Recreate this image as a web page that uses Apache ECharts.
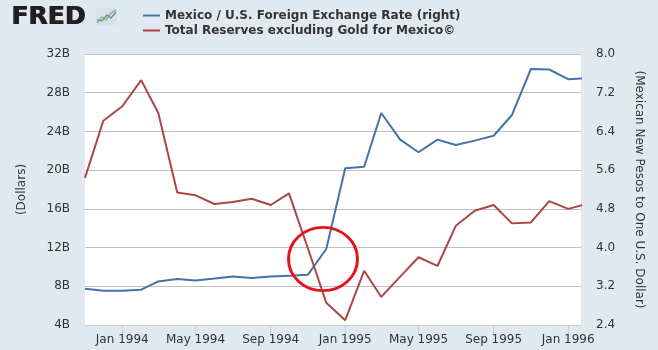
<!DOCTYPE html>
<html>
<head>
<meta charset="utf-8">
<script src="https://cdn.jsdelivr.net/npm/echarts@6/dist/echarts.min.js"></script>
<style>
  html, body { margin: 0; padding: 0; background: #e1e9f0; }
  #chartmain { width: 658px; height: 350px; }
</style>
</head>
<body>
<div id="chartmain"></div>
<script>
// monthly observations, Nov 1993 - Feb 1996
var months = ['1993-11','1993-12','1994-01','1994-02','1994-03','1994-04','1994-05','1994-06',
    '1994-07','1994-08','1994-09','1994-10','1994-11','1994-12','1995-01','1995-02','1995-03',
    '1995-04','1995-05','1995-06','1995-07','1995-08','1995-09','1995-10','1995-11','1995-12',
    '1996-01','1996-02'];
// pesos per dollar (right axis)
var exchangeRate = [3.15,3.11,3.11,3.13,3.30,3.35,3.32,3.36,3.40,3.37,3.40,3.42,3.44,3.97,
    5.64,5.67,6.78,6.23,5.97,6.23,6.12,6.21,6.31,6.74,7.69,7.68,7.48,7.50];
// total reserves excluding gold, billions of dollars (left axis)
var reserves = [19.2,25.1,26.6,29.3,25.9,17.7,17.4,16.5,16.7,17.05,16.4,17.6,11.9,6.3,
    4.5,9.6,6.9,9.0,11.0,10.1,14.25,15.8,16.4,14.5,14.6,16.8,16.0,16.5];
var tickMonths = ['1994-01','1994-05','1994-09','1995-01','1995-05','1995-09','1996-01'];
var monNames = ['Jan','Feb','Mar','Apr','May','Jun','Jul','Aug','Sep','Oct','Nov','Dec'];

var seriesNames = ['Mexico / U.S. Foreign Exchange Rate (right)', 'Total Reserves excluding Gold for Mexico\u00a9'];

// dates as day counts, so the x axis can be a plain value axis
function toDay(s, day) {
    var p = s.split('-');
    return Date.UTC(+p[0], +p[1] - 1, day || 1) / 86400000;
}

var rateData = [], resData = [];
for (var i = 0; i < months.length; i++) {
    rateData.push([toDay(months[i]), exchangeRate[i]]);
    resData.push([toDay(months[i]), reserves[i]]);
}
var tickValues = tickMonths.map(function (m) { return toDay(m); });

var myChart = echarts.init(document.getElementById('chartmain'));

var option = {
    backgroundColor: '#e1e9f0',
    animation: false,
    textStyle: { fontFamily: 'DejaVu Sans' },
    graphic: [
        // logo, drawn twice 1px apart to look heavier
        { type: 'text', left: 11, top: 5,
          style: { text: 'FRED', font: 'bold 25px "DejaVu Sans"', fill: '#231f20' } },
        { type: 'text', left: 12, top: 5,
          style: { text: 'FRED', font: 'bold 25px "DejaVu Sans"', fill: '#231f20' } },
        { type: 'rect', left: 96, top: 8, shape: { width: 21, height: 17 },
          style: { fill: '#d9e2e8' } },
        { type: 'polyline', shape: { points: [[97,23],[102,17],[106,20],[111,13],[116,10]] },
          style: { stroke: '#8cbf5a', lineWidth: 1.5, fill: null } },
        { type: 'polyline', shape: { points: [[97,20],[102,21],[107,15],[111,18],[116,12]] },
          style: { stroke: '#6a93bd', lineWidth: 1.5, fill: null } },
        { type: 'circle', x: 323, y: 259, scaleY: 0.92,
          shape: { cx: 0, cy: 0, r: 34.5 },
          style: { stroke: '#e3151a', lineWidth: 3, fill: null }, z: 100 }
    ],
    legend: {
        orient: 'vertical',
        left: 138,
        top: 4,
        icon: 'rect',
        itemWidth: 17,
        itemHeight: 2,
        itemGap: 2,
        data: seriesNames,
        textStyle: { fontSize: 12, fontWeight: 'bold', color: '#333', lineHeight: 13 }
    },
    grid: {
        left: 85,
        right: 77,
        top: 54,
        bottom: 25,
        show: true,
        backgroundColor: '#ffffff',
        borderWidth: 0
    },
    xAxis: {
        type: 'value',
        min: toDay('1993-11'),
        max: toDay('1996-01', 22),
        axisLine: { lineStyle: { color: '#c0d0e0' } },
        axisTick: { show: true, length: 10, lineStyle: { color: '#c0d0e0' }, customValues: tickValues },
        axisLabel: {
            customValues: tickValues,
            color: '#333',
            fontSize: 12,
            margin: 9,
            formatter: function (v) {
                var d = new Date(Math.round(v) * 86400000);
                return monNames[d.getUTCMonth()] + ' ' + d.getUTCFullYear();
            }
        },
        splitLine: { show: false }
    },
    yAxis: [
        {
            type: 'value',
            min: 4,
            max: 32,
            interval: 4,
            name: '(Dollars)',
            nameLocation: 'middle',
            nameRotate: 90,
            nameGap: 57,
            nameTextStyle: { color: '#333', fontSize: 12 },
            axisLine: { show: false },
            axisTick: { show: false },
            axisLabel: { color: '#333', fontSize: 12, margin: 15,
                formatter: function (v) { return v + 'B'; } },
            splitLine: { lineStyle: { color: '#c0c0c0', width: 1 } }
        },
        {
            type: 'value',
            min: 2.4,
            max: 8.0,
            interval: 0.8,
            name: '(Mexican New Pesos to One U.S. Dollar)',
            nameLocation: 'middle',
            nameRotate: -90,
            nameGap: 52,
            nameTextStyle: { color: '#333', fontSize: 12 },
            axisLine: { show: false },
            axisTick: { show: false },
            axisLabel: { color: '#333', fontSize: 12, margin: 15,
                formatter: function (v) { return v.toFixed(1); } },
            splitLine: { show: false }
        }
    ],
    series: [
        {
            name: seriesNames[0],
            type: 'line',
            yAxisIndex: 1,
            data: rateData,
            symbol: 'none',
            color: '#4572a7',
            lineStyle: { width: 2, color: '#4572a7' }
        },
        {
            name: seriesNames[1],
            type: 'line',
            yAxisIndex: 0,
            data: resData,
            symbol: 'none',
            color: '#aa4643',
            lineStyle: { width: 2, color: '#aa4643' }
        }
    ]
};

myChart.setOption(option);
</script>
</body>
</html>
